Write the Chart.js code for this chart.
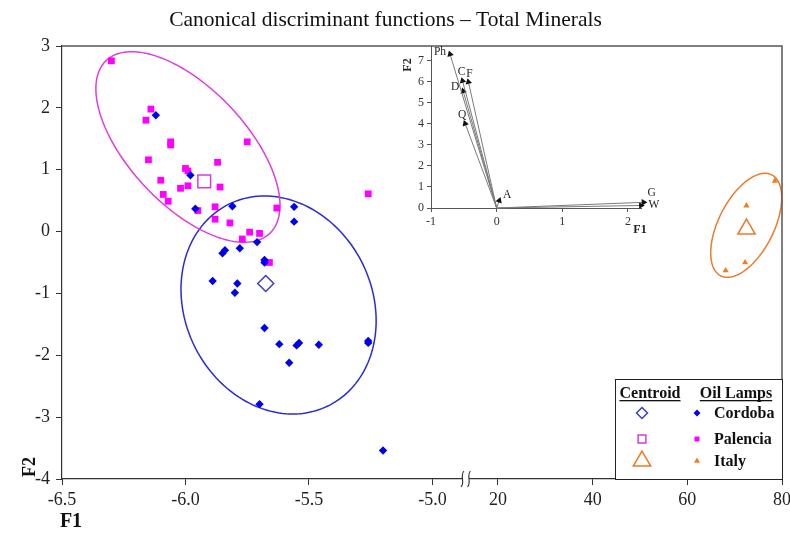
<!DOCTYPE html>
<html lang="en">
<head>
<meta charset="UTF-8">
<title>Canonical discriminant functions – Total Minerals</title>
<script src="https://cdn.jsdelivr.net/npm/chart.js"></script>
<style>
  body { margin: 0; background: #fff; }
  #wrap { position: relative; width: 790px; height: 537px; }
  #main { position: absolute; left: 0; top: 0; }
  #inset { position: absolute; left: 395px; top: 36px; }
</style>
</head>
<body>
<div id="wrap">
  <canvas id="main" width="790" height="537"></canvas>
  <canvas id="inset" width="270" height="206"></canvas>
</div>
<script>
// oil lamps, scores on the two discriminant functions
const cordobaX = [-6.12, -5.98, -5.96, -5.81, -5.56, -5.56, -5.71, -5.84, -5.85, -5.78, -5.68, -5.68, -5.89,
                  -5.79, -5.80, -5.68, -5.62, -5.55, -5.54, -5.46, -5.58, -5.70, -5.26, -5.26, -5.20];
const cordobaY = [1.88, 0.91, 0.37, 0.41, 0.40, 0.16, -0.17, -0.30, -0.35, -0.27, -0.46, -0.50, -0.80,
                  -0.84, -0.99, -1.56, -1.82, -1.84, -1.80, -1.83, -2.12, -2.79, -1.77, -1.80, -3.54];
const palenciaX = [-6.30, -6.14, -6.16, -6.06, -6.06, -5.75, -6.15, -6.00, -5.99, -5.87, -6.10, -6.02, -5.99,
                   -5.86, -6.09, -6.07, -5.95, -5.88, -5.88, -5.82, -5.63, -5.74, -5.70, -5.77, -5.66, -5.26];
const palenciaY = [2.76, 1.98, 1.80, 1.45, 1.40, 1.45, 1.16, 1.02, 0.98, 1.12, 0.83, 0.70, 0.74,
                   0.72, 0.60, 0.49, 0.34, 0.40, 0.20, 0.14, 0.38, -0.01, -0.03, -0.12, -0.50, 0.61];
const italyX = [78.5, 72.5, 72.2, 68.1];
const italyY = [0.82, 0.42, -0.50, -0.63];

// group centroids and ellipses (centre + two conjugate semi-diameters)
const groupNames = ['Cordoba', 'Palencia', 'Italy'];
const centroidX = [-5.675, -5.924, 72.5];
const centroidY = [-0.84, 0.81, 0.04];
const ellipseCX = [-5.623, -5.990, 72.44];
const ellipseCY = [-1.187, 1.367, 0.101];
const ellipseAX = [-0.057, -0.228, 3.97];
const ellipseAY = [1.762, 1.541, 0.841];
const ellipseBX = [0.391, 0.295, 6.36];
const ellipseBY = [0, 0, 0];

const xLowTicks = [-6.5, -6.0, -5.5, -5.0];
const xHighTicks = [20, 40, 60, 80];
const yTicks = [-4, -3, -2, -1, 0, 1, 2, 3];

// inset: variable loadings
const loadNames = ['Ph', 'C', 'F', 'D', 'Q', 'A', 'G', 'W'];
const loadF1 = [-0.71, -0.52, -0.43, -0.51, -0.48, 0.04, 2.24, 2.20];
const loadF2 = [7.32, 6.05, 6.00, 5.56, 4.02, 0.35, 0.27, 0.12];
const insetXTicks = [-1, 0, 1, 2];
const insetYTicks = [0, 1, 2, 3, 4, 5, 6, 7];

// styling
const serif = "'Liberation Serif', 'Times New Roman', serif";
const groupStyle = [
  { axis: 'x',  shape: 'rectRot',  dot: '#0000ee', ring: '#3b3bd6', line: '#2a2ad8', r: 4.2, cr: 8,  lr: 5.5 },
  { axis: 'x',  shape: 'rect',     dot: '#ff00ff', ring: '#d040d0', line: '#e03ce0', r: 4.8, cr: 9,  lr: 5.5 },
  { axis: 'x2', shape: 'triangle', dot: '#f07d1e', ring: '#ee7a2a', line: '#ee7a2a', r: 3.6, cr: 10, lr: 10 }
];
const labelOffset = [[-10, -2], [-1, -9], [1, -8], [-8, -4], [-3, -9], [8, -6], [8, -9], [13, 0]];

const pts = (xs, ys) => xs.map((x, i) => ({ x: x, y: ys[i] }));
const fixedTicks = list => scale => { scale.ticks = list.map(v => ({ value: v })); };

function marker(ctx, shape, x, y, r, fill, stroke, lw) {
  ctx.beginPath();
  if (shape === 'rectRot') {
    ctx.moveTo(x, y - r); ctx.lineTo(x + r, y); ctx.lineTo(x, y + r); ctx.lineTo(x - r, y);
  } else if (shape === 'rect') {
    const h = r * Math.SQRT1_2;
    ctx.rect(x - h, y - h, 2 * h, 2 * h);
  } else {
    ctx.moveTo(x, y - r); ctx.lineTo(x + 0.866 * r, y + 0.5 * r); ctx.lineTo(x - 0.866 * r, y + 0.5 * r);
  }
  ctx.closePath();
  if (fill) { ctx.fillStyle = fill; ctx.fill(); }
  if (stroke) { ctx.strokeStyle = stroke; ctx.lineWidth = lw; ctx.stroke(); }
}

function xAxis(weight, ticks, min, max, fmt) {
  return {
    type: 'linear', position: 'bottom', stack: 'f1', stackWeight: weight, min: min, max: max,
    grid: { display: true, drawOnChartArea: false, drawTicks: true, tickLength: 6, color: '#333' },
    border: { display: true, color: '#333', width: 1.2 },
    ticks: { font: { family: serif, size: 18 }, color: '#222', padding: 4, maxRotation: 0, autoSkip: false, callback: fmt },
    afterBuildTicks: fixedTicks(ticks),
    afterFit: s => { s.height = 58; s.paddingLeft = 0; s.paddingRight = 0; }
  };
}

const ellipsePlugin = {
  id: 'ellipses',
  beforeDatasetsDraw(chart) {
    const ctx = chart.ctx, ys = chart.scales.y;
    ellipseCX.forEach((cx, i) => {
      const xs = chart.scales[groupStyle[i].axis];
      ctx.save();
      ctx.beginPath();
      for (let k = 0; k <= 180; k++) {
        const t = k / 180 * 2 * Math.PI;
        const px = xs.getPixelForValue(cx + ellipseAX[i] * Math.cos(t) + ellipseBX[i] * Math.sin(t));
        const py = ys.getPixelForValue(ellipseCY[i] + ellipseAY[i] * Math.cos(t) + ellipseBY[i] * Math.sin(t));
        if (k) ctx.lineTo(px, py); else ctx.moveTo(px, py);
      }
      ctx.closePath();
      ctx.strokeStyle = groupStyle[i].line;
      ctx.lineWidth = 1.5;
      ctx.stroke();
      ctx.restore();
    });
  }
};

const decorPlugin = {
  id: 'decor',
  afterDraw(chart) {
    const ctx = chart.ctx, a = chart.chartArea;
    ctx.save();
    // title
    ctx.fillStyle = '#111';
    ctx.font = '21.5px ' + serif;
    ctx.textAlign = 'center';
    ctx.textBaseline = 'middle';
    ctx.fillText('Canonical discriminant functions – Total Minerals', 385.5, 20.5);

    // frame top and right
    ctx.strokeStyle = '#555';
    ctx.lineWidth = 1.5;
    ctx.beginPath();
    ctx.moveTo(a.left, a.top); ctx.lineTo(a.right, a.top); ctx.lineTo(a.right, a.bottom);
    ctx.stroke();

    // axis break marks
    const bx = chart.scales.x.right;
    ctx.fillStyle = '#fff';
    ctx.fillRect(bx - 3, a.bottom - 2, 6, 4);
    ctx.strokeStyle = '#333';
    ctx.lineWidth = 1.1;
    [bx - 3.5, bx + 3].forEach(x0 => {
      ctx.beginPath();
      ctx.moveTo(x0 + 1.5, a.bottom - 8);
      ctx.bezierCurveTo(x0 - 3, a.bottom - 3, x0 + 3, a.bottom + 3, x0 - 1.5, a.bottom + 8);
      ctx.stroke();
    });

    // axis titles
    ctx.fillStyle = '#111';
    ctx.font = 'bold 20px ' + serif;
    ctx.fillText('F1', 71, 522);
    ctx.save();
    ctx.translate(30, 467);
    ctx.rotate(-Math.PI / 2);
    ctx.font = 'bold 18px ' + serif;
    ctx.fillText('F2', 0, 0);
    ctx.restore();

    // legend box
    const L = a.right - 167, T = a.bottom - 100;
    ctx.fillStyle = '#fff';
    ctx.fillRect(L, T, a.right - L, a.bottom - T);
    ctx.strokeStyle = '#222';
    ctx.lineWidth = 1;
    ctx.strokeRect(L + 0.5, T + 0.5, a.right - L, a.bottom - T);
    ctx.fillStyle = '#111';
    ctx.font = 'bold 16px ' + serif;
    ctx.textBaseline = 'alphabetic';
    [['Centroid', L + 35], ['Oil Lamps', L + 121]].forEach(([txt, cx]) => {
      const w = ctx.measureText(txt).width;
      ctx.fillText(txt, cx, T + 19);
      ctx.fillRect(cx - w / 2, T + 21, w, 1.3);
    });
    ctx.textAlign = 'left';
    ctx.textBaseline = 'middle';
    const rows = [T + 34, T + 60, T + 82];
    groupNames.forEach((n, i) => {
      const g = groupStyle[i];
      marker(ctx, g.shape, L + 27, rows[i], g.lr, null, g.ring, 1.5);
      marker(ctx, g.shape, L + 82, rows[i], 3.5, g.dot, null, 0);
      ctx.fillStyle = '#111';
      ctx.fillText(n, L + 99, rows[i] + 1);
    });
    ctx.restore();
  }
};

const datasets = [
  { label: 'Cordoba', data: pts(cordobaX, cordobaY) },
  { label: 'Palencia', data: pts(palenciaX, palenciaY) },
  { label: 'Italy', data: pts(italyX, italyY) }
].map((d, i) => Object.assign(d, {
  xAxisID: groupStyle[i].axis, yAxisID: 'y',
  pointStyle: groupStyle[i].shape, pointRadius: groupStyle[i].r,
  backgroundColor: groupStyle[i].dot, borderColor: groupStyle[i].dot, borderWidth: 0
}));

groupNames.forEach((n, i) => {
  datasets.push({
    label: n + ' centroid', data: [{ x: centroidX[i], y: centroidY[i] }],
    xAxisID: groupStyle[i].axis, yAxisID: 'y',
    pointStyle: groupStyle[i].shape, pointRadius: groupStyle[i].cr,
    backgroundColor: 'rgba(0,0,0,0)', borderColor: groupStyle[i].ring, borderWidth: 1.5
  });
});

new Chart(document.getElementById('main'), {
  type: 'scatter',
  data: { datasets: datasets },
  options: {
    responsive: false,
    animation: false,
    events: [],
    layout: { autoPadding: false, padding: { top: 46, right: 8, left: 0, bottom: 0 } },
    plugins: { legend: { display: false }, tooltip: { enabled: false } },
    scales: {
      x: xAxis(404, xLowTicks, -6.5, -4.864, v => v.toFixed(1)),
      x2: xAxis(316, xHighTicks, 13.24, 80, v => v),
      y: {
        type: 'linear', position: 'left', min: -4, max: 3,
        grid: { display: true, drawOnChartArea: false, drawTicks: true, tickLength: 6, color: '#333' },
        border: { display: true, color: '#333', width: 1.2 },
        ticks: { font: { family: serif, size: 18 }, color: '#222', padding: 6 },
        afterBuildTicks: fixedTicks(yTicks),
        afterFit: s => { s.width = 62; }
      }
    }
  },
  plugins: [ellipsePlugin, decorPlugin]
});

// ---- inset biplot ----
function arrowAngle(c) {
  if (!c.raw || c.dataIndex === 0) return 0;
  const sx = c.chart.scales.x, sy = c.chart.scales.y;
  const dx = sx.getPixelForValue(c.raw.x) - sx.getPixelForValue(0);
  const dy = sy.getPixelForValue(c.raw.y) - sy.getPixelForValue(0);
  return Math.atan2(dx, -dy) * 180 / Math.PI;
}

const insetLabels = {
  id: 'insetLabels',
  afterDatasetsDraw(chart) {
    const ctx = chart.ctx, sx = chart.scales.x, sy = chart.scales.y;
    ctx.save();
    ctx.fillStyle = '#222';
    ctx.font = '11.5px ' + serif;
    ctx.textAlign = 'center';
    ctx.textBaseline = 'middle';
    loadNames.forEach((n, i) => {
      ctx.fillText(n, sx.getPixelForValue(loadF1[i]) + labelOffset[i][0], sy.getPixelForValue(loadF2[i]) + labelOffset[i][1]);
    });
    ctx.font = 'bold 12px ' + serif;
    ctx.fillText('F1', 245, 194);
    ctx.translate(13, 29);
    ctx.rotate(-Math.PI / 2);
    ctx.fillText('F2', 0, 0);
    ctx.restore();
  }
};

const insetAxis = (ticks, min, max, pos, fit) => ({
  type: 'linear', position: pos, min: min, max: max,
  grid: { display: true, drawOnChartArea: false, drawTicks: true, tickLength: 4, color: '#555' },
  border: { display: true, color: '#555', width: 1 },
  ticks: { font: { family: serif, size: 12 }, color: '#333', padding: 3, maxRotation: 0, autoSkip: false },
  afterBuildTicks: fixedTicks(ticks),
  afterFit: fit
});

new Chart(document.getElementById('inset'), {
  type: 'scatter',
  data: {
    datasets: loadNames.map((n, i) => ({
      label: n,
      data: [{ x: 0, y: 0 }, { x: loadF1[i], y: loadF2[i] }],
      showLine: true, clip: false,
      borderColor: '#7a7a7a', borderWidth: 1,
      pointStyle: 'triangle',
      pointRadius: c => (c.dataIndex ? 3.8 : 0),
      pointBackgroundColor: '#111', pointBorderColor: '#111', pointBorderWidth: 0,
      rotation: arrowAngle
    }))
  },
  options: {
    responsive: false,
    animation: false,
    events: [],
    layout: { autoPadding: false, padding: { top: 10, right: 24, left: 0, bottom: 0 } },
    plugins: { legend: { display: false }, tooltip: { enabled: false } },
    scales: {
      x: insetAxis(insetXTicks, -1, 2.2, 'bottom', s => { s.height = 34; }),
      y: insetAxis(insetYTicks, 0, 7.7, 'left', s => { s.width = 36; })
    }
  },
  plugins: [insetLabels]
});
</script>
</body>
</html>
